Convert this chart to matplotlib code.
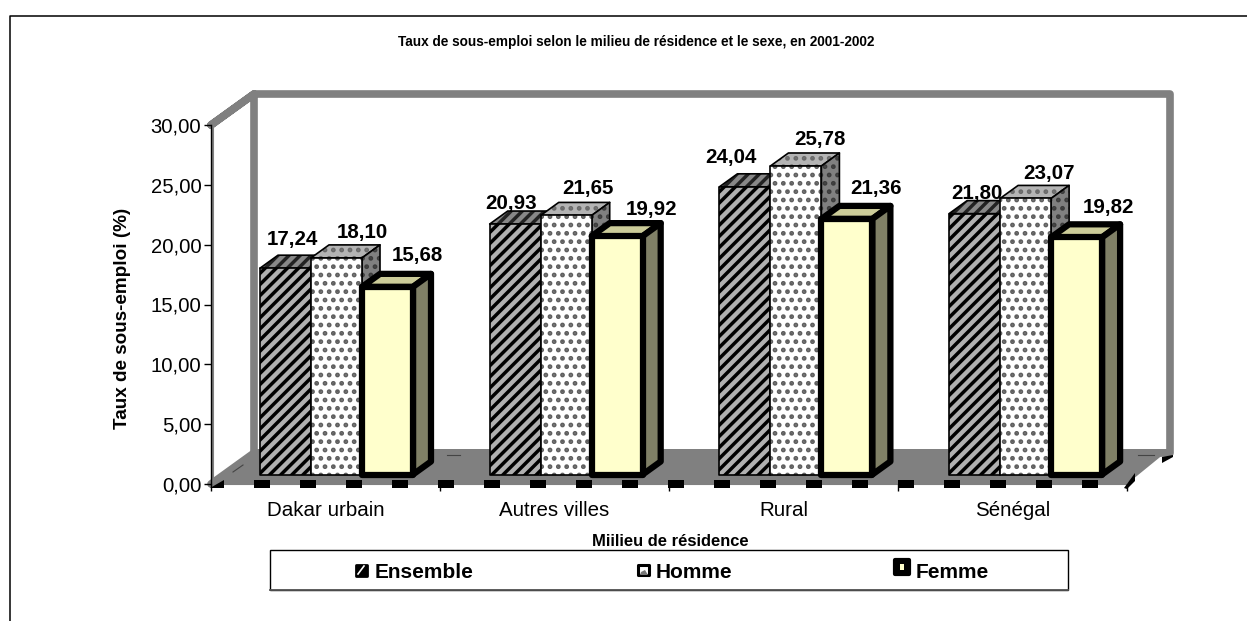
import matplotlib
matplotlib.use('Agg')
import matplotlib.pyplot as plt
from matplotlib.patches import Polygon, Rectangle

plt.rcParams['font.family'] = ['Liberation Sans', 'DejaVu Sans']

categories = ['Dakar urbain', 'Autres villes', 'Rural', 'Sénégal']
ensemble = [17.24, 20.93, 24.04, 21.80]
homme = [18.10, 21.65, 25.78, 23.07]
femme = [15.68, 19.92, 21.36, 19.82]
yticks = [0, 5, 10, 15, 20, 25, 30]
series_names = ['Ensemble', 'Homme', 'Femme']

# label nudges in pixels from the front left corner of each bar top
ensemble_nudge = [(32, 29), (21, 21), (12, 29), (28, 20)]
homme_nudge = [(51, 25), (47, 27), (50, 26), (49, 25)]
femme_nudge = [(55, 31), (60, 27), (55, 30), (57, 30)]

W, H = 1247, 621
# plot area in pixels (front plane)
X0, X1, Y0, Y30 = 211, 1127, 484, 125
PX = 4 / (X1 - X0)    # data x per pixel
PY = 30 / (Y0 - Y30)  # data y per pixel
BASE = 9.5 * PY       # bars stand a bit back on the floor


def fr(v):
    return ('%.2f' % v).replace('.', ',')


def p(x, y):
    return ((x - X0) * PX, (Y0 - y) * PY)


def draw_box(ax, x, width, value, z, front, side, top, hatch=None, hatch_cols=('k', 'k', 'k'), hatch_lw=1.0, lw=1.0):
    dx, dy = 18 * PX, 13 * PY
    x0, x1 = x, x + width
    y0, y1 = BASE, value + BASE
    faces = [
        ([(x0, y1), (x1, y1), (x1 + dx, y1 + dy), (x0 + dx, y1 + dy)], top, hatch_cols[2]),
        ([(x1, y0), (x1 + dx, y0 + dy), (x1 + dx, y1 + dy), (x1, y1)], side, hatch_cols[1]),
        ([(x0, y0), (x1, y0), (x1, y1), (x0, y1)], front, hatch_cols[0]),
    ]
    plt.rcParams['hatch.linewidth'] = hatch_lw
    for pts, col, hcol in faces:
        if hatch:
            ax.add_patch(Polygon(pts, closed=True, facecolor=col, edgecolor=hcol, hatch=hatch, lw=0, zorder=z, clip_on=False))
        else:
            ax.add_patch(Polygon(pts, closed=True, facecolor=col, edgecolor='none', zorder=z, clip_on=False))
        ax.add_patch(Polygon(pts, closed=True, fill=False, edgecolor='k', lw=lw, joinstyle='round', zorder=z, clip_on=False))


def bar_label(ax, x, value, nudge):
    ax.annotate(fr(value), xy=(x, value + BASE), xytext=nudge, textcoords='offset pixels',
                ha='center', va='center', fontsize=14.8, fontweight='bold', zorder=20, annotation_clip=False)


fig = plt.figure(figsize=(W / 100, H / 100), dpi=100)
fig.patch.set_facecolor('white')

# overlay in pixels for chart border and legend box
bg = fig.add_axes([0, 0, 1, 1], zorder=0)
bg.set_xlim(0, W)
bg.set_ylim(H, 0)
bg.axis('off')
bg.plot([10, 10, W], [H, 16, 16], color='k', lw=1.1)

ax = fig.add_axes([X0 / W, 1 - Y0 / H, (X1 - X0) / W, (Y0 - Y30) / H], zorder=1)
ax.patch.set_alpha(0)
ax.set_xlim(0, 4)
ax.set_ylim(0, 30)
for s in ['top', 'right']:
    ax.spines[s].set_visible(False)
ax.spines['left'].set_color('k')
ax.spines['bottom'].set_color('#808080')
ax.spines['bottom'].set_zorder(0.5)
ax.spines['left'].set_linewidth(1.0)
ax.set_yticks(yticks)
ax.set_yticklabels([fr(v) for v in yticks], fontsize=14.6)
ax.tick_params(axis='y', length=5, pad=2, width=1)
ax.set_xticks([0.5, 1.5, 2.5, 3.5])
ax.set_xticklabels(categories, fontsize=14.8)
ax.tick_params(axis='x', length=0, pad=12)
ax.set_xticks([0, 1, 2, 3, 4], minor=True)
ax.tick_params(axis='x', which='minor', length=5, width=1, color='k')
ax.set_ylabel('Taux de sous-emploi (%)', fontsize=13.6, fontweight='bold')
ax.yaxis.set_label_coords((131 - X0) / (X1 - X0), (Y0 - 318) / (Y0 - Y30))

# walls and floor
ddx, ddy = 43 * PX, 31 * PY
wall = dict(color='#808080', lw=5.5, solid_capstyle='round', solid_joinstyle='round', clip_on=False, zorder=1)
ax.add_patch(Polygon([(0, 0), (4, 0), (4 + ddx, ddy + 4 * PY), (ddx, ddy + 4 * PY)], closed=True, facecolor='#808080', edgecolor='none', zorder=1, clip_on=False))
ax.plot([0, ddx, ddx, 4 + ddx, 4 + ddx, ddx, 0], [30, 30 + ddy, ddy, ddy, 30 + ddy, 30 + ddy, 30], **wall)
ax.plot([0, ddx], [0, ddy], **wall)
ax.plot([1.5 * PX] * 2, [0, 30], color='#808080', lw=1.5, zorder=1, clip_on=False)

# thin lines left on the floor
for xs, ys in [((233, 243), (472, 465)), ((447, 460), (455, 455)), ((1138, 1154), (455, 455))]:
    ax.plot([p(xs[0], ys[0])[0], p(xs[1], ys[1])[0]], [p(xs[0], ys[0])[1], p(xs[1], ys[1])[1]], color='#444444', lw=0.8, zorder=1.5, clip_on=False)

# dashed black marks along the front edge of the floor
for k in range(19):
    xs = 43 * PX + k * 46 * PX
    ax.add_patch(Rectangle((xs, -4 * PY), 16 * PX, 8 * PY, facecolor='k', edgecolor='none', zorder=2, clip_on=False))
corners = [
    [(210, 488), (224, 480), (224, 488)],
    [(1124, 488), (1135, 473), (1135, 481), (1127, 489)],
    [(1162, 457), (1173, 455), (1173, 457), (1162, 463)],
]
for c in corners:
    ax.add_patch(Polygon([p(*q) for q in c], closed=True, facecolor='k', edgecolor='none', zorder=2, clip_on=False))
ax.set_xlabel('Miilieu de résidence', fontsize=11.9, fontweight='bold')
ax.xaxis.set_label_coords((670 - X0) / (X1 - X0), (Y0 - 541) / (Y0 - Y30))
ax.xaxis.label.set_va('center')

bar_w = 51 * PX
start = (260 - X0) * PX
step = 229.7 * PX
for i in range(len(categories)):
    x = start + i * step
    draw_box(ax, x, bar_w, ensemble[i], 3 + 3 * i, '#b0b0b0', '#777777', '#888888', '///', ('k', 'k', '#222222'), 2.5, 1.2)
    draw_box(ax, x + bar_w, bar_w, homme[i], 4 + 3 * i, 'white', '#808080', '#b4b4b4', '..', ('#5f5f5f', '#3c3c3c', '#6a6a6a'), 2.2, 1.2)
    draw_box(ax, x + 2 * bar_w, bar_w, femme[i], 5 + 3 * i, '#ffffcc', '#808066', '#cccc99', lw=4.5)
    bar_label(ax, x, ensemble[i], ensemble_nudge[i])
    bar_label(ax, x + bar_w, homme[i], homme_nudge[i])
    bar_label(ax, x + 2 * bar_w, femme[i], femme_nudge[i])

fig.text(636 / W, 1 - 42 / H, 'Taux de sous-emploi selon le milieu de résidence et le sexe, en 2001-2002',
         ha='center', va='center', fontsize=9.85, fontweight='bold')

# legend
bg.add_patch(Rectangle((270, 550), 798, 40, facecolor='white', edgecolor='k', lw=1.0))
bg.plot([270, 1068], [590, 590], color='#555555', lw=1.3)
bg.add_patch(Rectangle((355.5, 564.5), 11, 11, facecolor='k', edgecolor='k', lw=2, joinstyle='round'))
bg.plot([358, 364], [574, 566], color='white', lw=1.2)
bg.add_patch(Rectangle((638, 565), 11, 10, facecolor='white', edgecolor='k', lw=2.2, joinstyle='round'))
bg.add_patch(Polygon([(640, 575), (648, 575), (645, 570), (641, 572)], closed=True, facecolor='#777777', edgecolor='none'))
bg.add_patch(Rectangle((895, 560), 14, 14, facecolor='k', edgecolor='k', lw=3, joinstyle='round'))
bg.add_patch(Rectangle((900, 564), 4, 6, facecolor='#ffffcc', edgecolor='none'))
bg.text(375, 572.5, series_names[0], ha='left', va='center', fontsize=15, fontweight='bold')
bg.text(656, 572.5, series_names[1], ha='left', va='center', fontsize=15, fontweight='bold')
bg.text(916, 572.5, series_names[2], ha='left', va='center', fontsize=15, fontweight='bold')

fig.savefig('out.png', dpi=100)
